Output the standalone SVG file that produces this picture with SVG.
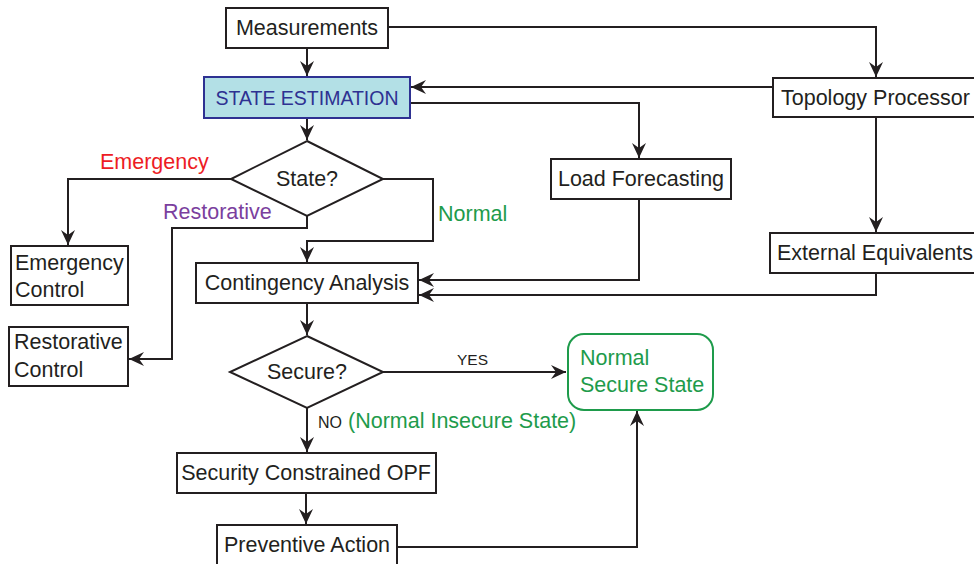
<svg xmlns="http://www.w3.org/2000/svg" width="974" height="564" viewBox="0 0 974 564">
<style>
.box{fill:#fff;stroke:#231f20;stroke-width:2}
.t{font-family:"Liberation Sans",Arial,sans-serif;font-size:21.5px;fill:#231f20}
.c{text-anchor:middle}
.line{fill:none;stroke:#231f20;stroke-width:2}
.sm{font-size:16px}
.green{fill:#1e9b4b}
</style>
<defs>
<marker id="ah" viewBox="-16 -8 17 16" markerWidth="17" markerHeight="16" refX="0" refY="0" orient="auto" markerUnits="userSpaceOnUse">
<path d="M0,0 L-15,-7 L-10,0 L-15,7 Z" fill="#231f20"/>
</marker>
</defs>
<rect width="974" height="564" fill="#fff"/>
<g id="connectors">
<path class="line" d="M307,48 V76" marker-end="url(#ah)"/>
<path class="line" d="M388,27 H876 V77" marker-end="url(#ah)"/>
<path class="line" d="M773,87 H411" marker-end="url(#ah)"/>
<path class="line" d="M410,103 H639 V158" marker-end="url(#ah)"/>
<path class="line" d="M307,118 V140" marker-end="url(#ah)"/>
<path class="line" d="M876,117 V232" marker-end="url(#ah)"/>
<path class="line" d="M231,179 H68 V245" marker-end="url(#ah)"/>
<path class="line" d="M307,216 V228 H172 V359 H129" marker-end="url(#ah)"/>
<path class="line" d="M383,179 H433 V241 H307 V262" marker-end="url(#ah)"/>
<path class="line" d="M639,199 V280 H419" marker-end="url(#ah)"/>
<path class="line" d="M876,273 V295 H419" marker-end="url(#ah)"/>
<path class="line" d="M307,303 V335" marker-end="url(#ah)"/>
<path class="line" d="M383,372 H566" marker-end="url(#ah)"/>
<path class="line" d="M307,408 V452" marker-end="url(#ah)"/>
<path class="line" d="M306,493 V524" marker-end="url(#ah)"/>
<path class="line" d="M397,547 H637 V411" marker-end="url(#ah)"/>
<text class="t" x="100" y="169" style="fill:#ed1c24">Emergency</text>
<text class="t" x="163" y="219" style="fill:#7b3f9e">Restorative</text>
<text class="t green" x="438" y="221">Normal</text>
<text class="t sm" x="457" y="365" style="font-size:15.5px">YES</text>
<text class="t sm" x="318" y="428">NO</text>
<text class="t green" x="348" y="428">(Normal Insecure State)</text>
</g>
<g id="measurements">
<rect class="box" x="226" y="8" width="162" height="40"/>
<text class="t c" x="307" y="35">Measurements</text>
</g>
<g id="state-estimation">
<rect x="204" y="77" width="206" height="41" fill="#b3e0e6" stroke="#2e3192" stroke-width="2"/>
<text class="t c" x="307" y="105" style="fill:#2e3192;font-size:19.5px">STATE ESTIMATION</text>
</g>
<g id="topology">
<rect class="box" x="773" y="78" width="202" height="39"/>
<text class="t" x="781" y="105">Topology Processor</text>
</g>
<g id="load-forecasting">
<rect class="box" x="551" y="159" width="180" height="40"/>
<text class="t c" x="641" y="186">Load Forecasting</text>
</g>
<g id="state-decision">
<polygon class="box" points="307,141 383,179 307,216 231,179"/>
<text class="t c" x="307" y="186">State?</text>
</g>
<g id="external-equivalents">
<rect class="box" x="770" y="233" width="205" height="40"/>
<text class="t" x="777" y="260">External Equivalents</text>
</g>
<g id="emergency-control">
<rect class="box" x="11" y="246" width="117" height="59"/>
<text class="t" x="15" y="270">Emergency</text>
<text class="t" x="15" y="297">Control</text>
</g>
<g id="contingency">
<rect class="box" x="196" y="263" width="222" height="40"/>
<text class="t c" x="307" y="290">Contingency Analysis</text>
</g>
<g id="restorative-control">
<rect class="box" x="9" y="327" width="119" height="59"/>
<text class="t" x="14" y="349">Restorative</text>
<text class="t" x="14" y="377">Control</text>
</g>
<g id="secure-decision">
<polygon class="box" points="307,336 383,372 307,408 230,372"/>
<text class="t c" x="307" y="379">Secure?</text>
</g>
<g id="normal-secure">
<rect x="568" y="334" width="145" height="76" rx="16" fill="#fff" stroke="#1e9b4b" stroke-width="2"/>
<text class="t green" x="580" y="365">Normal</text>
<text class="t green" x="580" y="392">Secure State</text>
</g>
<g id="scopf">
<rect class="box" x="177" y="453" width="259" height="40"/>
<text class="t c" x="306" y="480">Security Constrained OPF</text>
</g>
<g id="preventive">
<rect class="box" x="217" y="525" width="180" height="45"/>
<text class="t c" x="307" y="552">Preventive Action</text>
</g>
</svg>
